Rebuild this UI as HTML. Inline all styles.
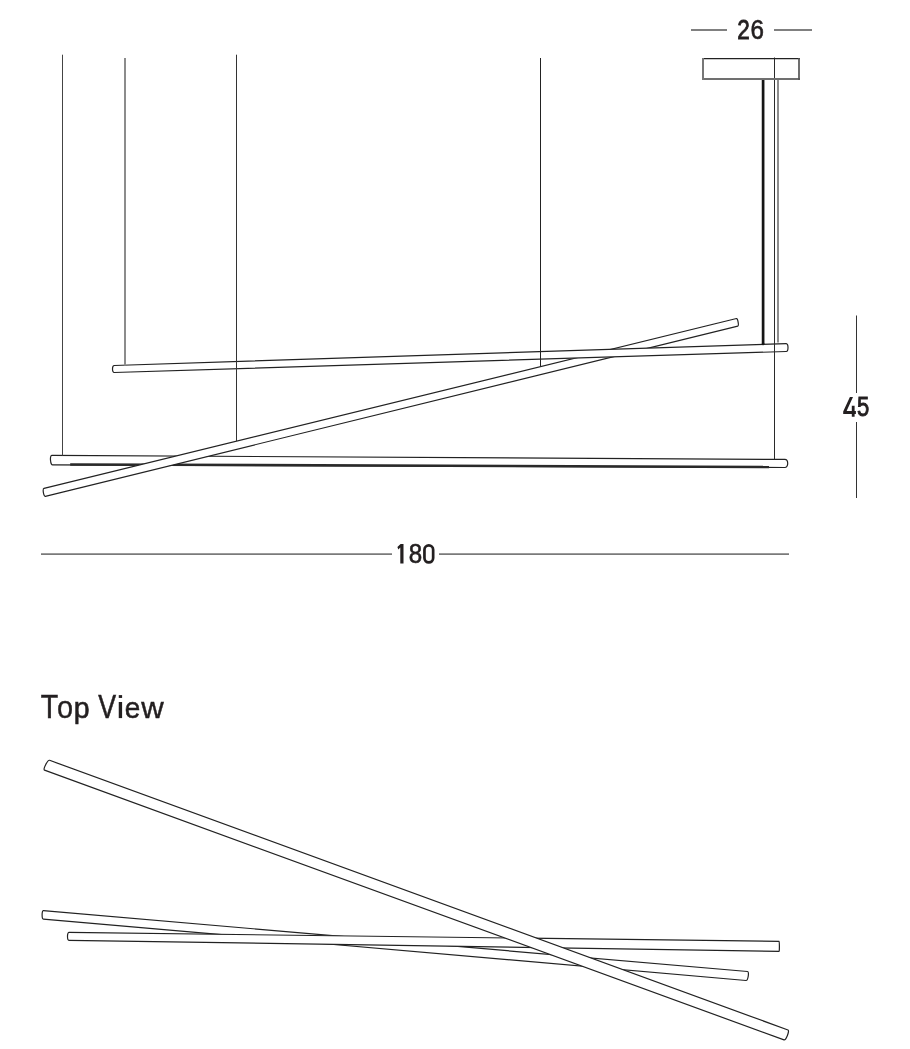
<!DOCTYPE html>
<html><head><meta charset="utf-8"><style>
html,body{margin:0;padding:0;background:#fff;}
body{width:910px;height:1049px;overflow:hidden;font-family:"Liberation Sans",sans-serif;}
svg{display:block;will-change:transform;}
</style></head><body>
<svg width="910" height="1049" viewBox="0 0 910 1049">
<path d="M51.80,455.40 L784.80,459.40 C788.67,459.42 788.67,467.52 784.80,467.50 L52.60,464.80 C50.33,464.79 49.53,455.39 51.80,455.40 Z" fill="#fff" stroke="#222" stroke-width="1.2" stroke-linejoin="round" />
<line x1="70.2" y1="464.4" x2="769" y2="467.1" stroke="#2a2a2a" stroke-width="2.5"/>
<path d="M44.00,488.30 L736.50,318.50 C737.79,318.18 739.09,325.78 737.80,326.10 L45.30,496.30 C43.62,496.71 42.32,488.71 44.00,488.30 Z" fill="#fff" stroke="#222" stroke-width="1.2" stroke-linejoin="round" />
<path d="M114.30,365.50 L786.20,343.60 C788.60,343.52 788.60,351.42 786.20,351.50 L114.30,372.50 C111.90,372.58 111.90,365.58 114.30,365.50 Z" fill="#fff" stroke="#222" stroke-width="1.2" stroke-linejoin="round" />
<line x1="62.5" y1="54.7" x2="62.5" y2="455.5" stroke="#444" stroke-width="1"/>
<line x1="125" y1="58" x2="125" y2="365.5" stroke="#8c8c8c" stroke-width="2"/>
<line x1="236.5" y1="54.7" x2="236.5" y2="441" stroke="#333" stroke-width="1"/>
<line x1="540.5" y1="58" x2="540.5" y2="366.5" stroke="#222" stroke-width="1"/>
<line x1="774.5" y1="57.5" x2="774.5" y2="459.5" stroke="#2a2a2a" stroke-width="1"/>
<line x1="763.1" y1="79" x2="763.1" y2="344" stroke="#151515" stroke-width="2.7"/>
<circle cx="763.1" cy="344" r="1.35" fill="#151515"/>
<line x1="778" y1="79" x2="778" y2="342.5" stroke="#808080" stroke-width="1.8"/>
<line x1="702" y1="58.6" x2="800" y2="58.6" stroke="#222" stroke-width="1.2"/>
<line x1="702" y1="79" x2="800" y2="79" stroke="#707070" stroke-width="1.8"/>
<line x1="703" y1="58" x2="703" y2="80" stroke="#777" stroke-width="2"/>
<line x1="799" y1="58" x2="799" y2="80" stroke="#555" stroke-width="1.7"/>
<line x1="691" y1="30" x2="727" y2="30" stroke="#808080" stroke-width="2"/>
<line x1="774" y1="30" x2="812" y2="30" stroke="#808080" stroke-width="2"/>
<line x1="856.5" y1="315.5" x2="856.5" y2="393" stroke="#333" stroke-width="1"/>
<line x1="856.5" y1="422" x2="856.5" y2="498" stroke="#333" stroke-width="1"/>
<line x1="41" y1="554.1" x2="392" y2="554.1" stroke="#7a7a7a" stroke-width="1.8"/>
<line x1="439" y1="554.1" x2="789" y2="554.1" stroke="#7a7a7a" stroke-width="1.8"/>
<text transform="matrix(0.22520 0 0 0.27267 737.223 39.275)" font-size="100" font-family="Liberation Sans, sans-serif" fill="#231f20" stroke="#231f20" stroke-width="3.1102">2</text>
<text transform="matrix(0.24228 0 0 0.27725 750.405 39.344)" font-size="100" font-family="Liberation Sans, sans-serif" fill="#231f20" stroke="#231f20" stroke-width="2.2016">6</text>
<path d="M849.9,397.1 L853.0,397.1 L846.6,411.1 L851.8,411.1 L851.8,405.8 L854.6,405.8 L854.6,411.1 L855.9,411.1 L855.9,413.9 L854.6,413.9 L854.6,416.7 L851.8,416.7 L851.8,413.9 L843.2,413.9 L843.2,411.4 Z" fill="#231f20"/>
<text transform="matrix(0.22008 0 0 0.26921 857.027 416.029)" font-size="100" font-family="Liberation Sans, sans-serif" fill="#231f20" stroke="#231f20" stroke-width="3.3513">5</text>
<path d="M400.3,544 L403.5,544 L403.5,563.6 L400.3,563.6 L400.3,547.4 L398.3,549.4 L397.4,547.0 L400.6,544 Z" fill="#231f20"/>
<text transform="matrix(0.24125 0 0 0.27288 408.741 563.344)" font-size="100" font-family="Liberation Sans, sans-serif" fill="#231f20" stroke="#231f20" stroke-width="2.2591">8</text>
<rect x="424.45" y="545.35" width="8.7" height="17.1" rx="4.35" ry="4.35" fill="none" stroke="#231f20" stroke-width="2.7"/>
<text transform="matrix(0.28520 0 0 0.33542 40.671 718.238)" font-size="100" font-family="Liberation Sans, sans-serif" fill="#231f20" stroke="#231f20" stroke-width="1.6932">T</text>
<text transform="matrix(0.28994 0 0 0.30829 56.938 718.044)" font-size="100" font-family="Liberation Sans, sans-serif" fill="#231f20" stroke="#231f20" stroke-width="1.0374">o</text>
<text transform="matrix(0.28467 0 0 0.30334 73.664 718.106)" font-size="100" font-family="Liberation Sans, sans-serif" fill="#231f20" stroke="#231f20" stroke-width="2.0349">p</text>
<text transform="matrix(0.26705 0 0 0.32962 98.144 717.839)" font-size="100" font-family="Liberation Sans, sans-serif" fill="#231f20" stroke="#231f20" stroke-width="1.7609">V</text>
<rect x="118.75" y="695.1" width="3.35" height="2.85" fill="#231f20"/>
<rect x="118.75" y="702" width="3.35" height="16.1" fill="#231f20"/>
<text transform="matrix(0.27975 0 0 0.30350 124.648 717.867)" font-size="100" font-family="Liberation Sans, sans-serif" fill="#231f20" stroke="#231f20" stroke-width="1.6231">e</text>
<text transform="matrix(0.31101 0 0 0.29493 141.355 717.791)" font-size="100" font-family="Liberation Sans, sans-serif" fill="#231f20" stroke="#231f20" stroke-width="1.3814">w</text>
<path d="M43.30,910.60 L747.50,971.50 C749.49,971.67 747.99,980.67 746.00,980.50 L43.30,919.10 C41.71,918.96 41.71,910.46 43.30,910.60 Z" fill="#fff" stroke="#222" stroke-width="1.2" stroke-linejoin="round" />
<path d="M68.90,932.40 L779.10,941.40 C779.50,941.41 779.50,951.41 779.10,951.40 L68.90,940.30 C67.03,940.27 67.03,932.37 68.90,932.40 Z" fill="#fff" stroke="#222" stroke-width="1.2" stroke-linejoin="round" />
<path d="M49.60,760.30 L788.00,1030.00 C789.88,1030.69 785.88,1040.59 784.00,1039.90 L44.50,770.10 C42.62,769.41 47.72,759.61 49.60,760.30 Z" fill="#fff" stroke="#222" stroke-width="1.2" stroke-linejoin="round" />
</svg>
</body></html>
